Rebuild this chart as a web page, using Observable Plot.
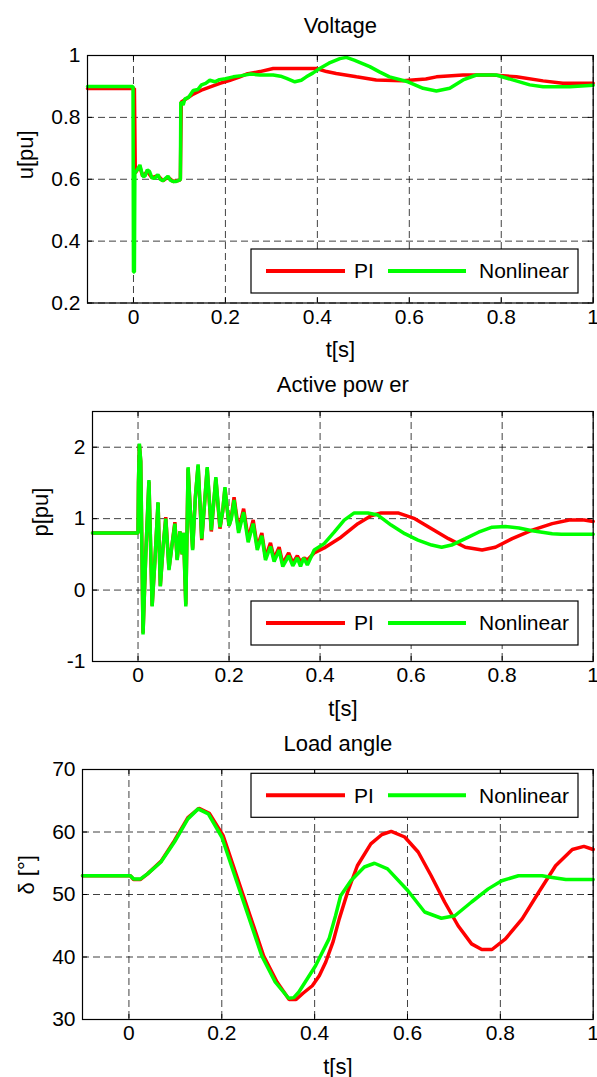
<!DOCTYPE html>
<html><head><meta charset="utf-8">
<script src="https://cdn.jsdelivr.net/npm/d3@7"></script>
<script src="https://cdn.jsdelivr.net/npm/@observablehq/plot@0.6"></script>
<style>
body{margin:0;background:#fff;}
#chart{position:relative;width:597px;height:1077px;font-family:"Liberation Sans",Arial,sans-serif;}
#chart svg{position:absolute;left:0;}
</style></head><body><div id="chart"></div><script>
// ---------- data ----------
const xTicks = [0, 0.2, 0.4, 0.6, 0.8, 1];
const xDomain = [-0.1, 1];
const seriesNames = ["PI", "Nonlinear"];
const seriesColors = ["#ff0000", "#00ff00"];
const titles = ["Voltage", "Active pow er", "Load angle"];
const yLabels = ["u[pu]", "p[pu]", "δ [°]"];
const xLabel = "t[s]";
const yTicksVoltage = [0.2, 0.4, 0.6, 0.8, 1];
const yTicksPower = [-1, 0, 1, 2];
const yTicksAngle = [30, 40, 50, 60, 70];
const yDomainVoltage = [0.2, 1];
const yDomainPower = [-1, 2.5];
const yDomainAngle = [30, 70];

// [t, value]
const voltagePI = [[-0.1,0.893],[0.002,0.893],[0.004,0.62],[0.008,0.63],[0.014,0.64],[0.02,0.61],[0.03,0.625],[0.04,0.605],[0.053,0.612],[0.064,0.595],[0.075,0.607],[0.086,0.593],[0.1,0.597],[0.102,0.6],[0.104,0.85],[0.115,0.86],[0.13,0.875],[0.151,0.89],[0.17,0.9],[0.188,0.91],[0.21,0.92],[0.23,0.93],[0.246,0.94],[0.275,0.948],[0.304,0.958],[0.398,0.958],[0.42,0.948],[0.441,0.942],[0.485,0.931],[0.528,0.921],[0.586,0.918],[0.636,0.924],[0.659,0.931],[0.717,0.937],[0.781,0.937],[0.833,0.931],[0.891,0.918],[0.934,0.91],[1.0,0.91]];
const voltageNL = [[-0.1,0.9],[-0.001,0.9],[0,0.3],[0.002,0.3],[0.003,0.62],[0.008,0.63],[0.014,0.646],[0.02,0.61],[0.025,0.61],[0.03,0.63],[0.035,0.625],[0.04,0.605],[0.046,0.603],[0.053,0.615],[0.058,0.6],[0.064,0.595],[0.07,0.603],[0.075,0.61],[0.08,0.597],[0.086,0.593],[0.093,0.593],[0.1,0.597],[0.102,0.6],[0.103,0.85],[0.108,0.84],[0.112,0.86],[0.12,0.865],[0.13,0.887],[0.14,0.89],[0.148,0.905],[0.157,0.91],[0.166,0.92],[0.177,0.915],[0.187,0.922],[0.2,0.925],[0.217,0.931],[0.235,0.935],[0.255,0.94],[0.275,0.937],[0.304,0.937],[0.32,0.933],[0.333,0.926],[0.351,0.915],[0.365,0.92],[0.376,0.931],[0.39,0.943],[0.405,0.958],[0.425,0.975],[0.449,0.99],[0.463,0.994],[0.48,0.985],[0.514,0.964],[0.535,0.947],[0.557,0.931],[0.597,0.915],[0.63,0.894],[0.659,0.885],[0.688,0.894],[0.717,0.921],[0.746,0.937],[0.789,0.937],[0.825,0.921],[0.862,0.905],[0.891,0.899],[0.949,0.899],[1.0,0.904]];

const powerPI = [[-0.1,0.8],[0,0.8],[0.001,1.5],[0.003,2.03],[0.006,1.8],[0.011,-0.6],[0.017,0.5],[0.024,1.52],[0.031,-0.22],[0.037,0.4],[0.044,1.22],[0.049,0.06],[0.055,0.6],[0.061,1.02],[0.068,0.3],[0.074,0.6],[0.081,0.95],[0.086,0.43],[0.092,0.82],[0.097,0.5],[0.1,0.8],[0.105,-0.2],[0.11,1.7],[0.115,1.1],[0.12,0.58],[0.126,1.3],[0.132,1.74],[0.14,0.7],[0.146,1.2],[0.152,1.7],[0.161,0.82],[0.166,1.2],[0.171,1.56],[0.18,0.86],[0.186,1.1],[0.191,1.42],[0.2,0.9],[0.205,1.02],[0.211,1.3],[0.221,0.84],[0.232,1.14],[0.242,0.72],[0.253,0.98],[0.262,0.6],[0.272,0.8],[0.28,0.46],[0.291,0.66],[0.299,0.44],[0.31,0.6],[0.318,0.37],[0.331,0.52],[0.34,0.38],[0.35,0.48],[0.357,0.4],[0.365,0.45],[0.372,0.42],[0.387,0.52],[0.409,0.59],[0.446,0.74],[0.483,0.93],[0.512,1.04],[0.534,1.08],[0.571,1.08],[0.608,1.0],[0.645,0.86],[0.682,0.72],[0.719,0.6],[0.756,0.56],[0.785,0.6],[0.822,0.72],[0.866,0.84],[0.91,0.93],[0.947,0.98],[0.98,0.98],[1.0,0.96]];
const powerNL = [[-0.1,0.8],[0,0.8],[0.001,1.5],[0.003,2.05],[0.006,1.8],[0.011,-0.62],[0.017,0.5],[0.024,1.54],[0.031,-0.23],[0.037,0.4],[0.044,1.23],[0.049,0.05],[0.055,0.6],[0.061,1.0],[0.068,0.28],[0.074,0.6],[0.081,0.93],[0.086,0.42],[0.092,0.82],[0.097,0.5],[0.1,0.8],[0.105,-0.23],[0.11,1.72],[0.115,1.1],[0.12,0.56],[0.126,1.3],[0.132,1.76],[0.14,0.72],[0.146,1.2],[0.152,1.72],[0.161,0.84],[0.166,1.2],[0.171,1.58],[0.18,0.88],[0.186,1.1],[0.191,1.44],[0.2,0.9],[0.205,1.0],[0.211,1.26],[0.221,0.8],[0.232,1.09],[0.242,0.67],[0.253,0.93],[0.262,0.56],[0.272,0.76],[0.28,0.42],[0.291,0.61],[0.299,0.4],[0.31,0.56],[0.318,0.33],[0.331,0.48],[0.34,0.34],[0.35,0.45],[0.357,0.33],[0.364,0.45],[0.372,0.35],[0.38,0.46],[0.387,0.56],[0.409,0.65],[0.431,0.81],[0.453,0.98],[0.475,1.08],[0.505,1.08],[0.527,1.05],[0.556,0.91],[0.586,0.79],[0.615,0.7],[0.645,0.63],[0.667,0.6],[0.689,0.63],[0.719,0.72],[0.748,0.81],[0.778,0.88],[0.807,0.89],[0.837,0.87],[0.866,0.83],[0.91,0.79],[0.93,0.78],[1.0,0.78]];

const anglePI = [[-0.1,53],[0.003,53],[0.01,52.4],[0.025,52.4],[0.04,53.3],[0.069,55.3],[0.098,58.6],[0.127,62.3],[0.151,63.8],[0.173,63],[0.203,59.4],[0.232,53],[0.261,46.6],[0.29,40.2],[0.319,36],[0.345,33.2],[0.36,33.2],[0.375,34.2],[0.395,35.4],[0.41,37],[0.424,39.2],[0.44,42.5],[0.453,46.1],[0.471,50.4],[0.492,54.6],[0.521,58.1],[0.545,59.6],[0.565,60.1],[0.594,59.2],[0.623,56.8],[0.651,53],[0.68,48.8],[0.709,45],[0.738,42.1],[0.76,41.2],[0.782,41.2],[0.811,42.9],[0.847,46.1],[0.883,50.4],[0.919,54.6],[0.955,57.2],[0.98,57.7],[1.0,57.2]];
const angleNL = [[-0.1,53],[0.003,53],[0.01,52.5],[0.025,52.5],[0.04,53.3],[0.069,55.2],[0.098,58.4],[0.127,62.1],[0.149,63.7],[0.171,62.9],[0.2,59.2],[0.228,53],[0.257,46.6],[0.286,40.2],[0.315,36],[0.344,33.4],[0.355,33.5],[0.366,34.4],[0.402,38.6],[0.431,42.9],[0.445,46.6],[0.456,49.8],[0.478,52.2],[0.507,54.4],[0.529,55],[0.557,54.1],[0.601,50.6],[0.637,47.2],[0.673,46.2],[0.702,46.6],[0.738,48.8],[0.774,50.9],[0.803,52.2],[0.839,53],[0.89,53],[0.905,52.8],[0.941,52.4],[1.0,52.4]];

// ---------- layout ----------
const W = 597;
const FONT = 21;
const panels = [
  {top:0, height:365, mt:55, mb:62.5, ml:87, mr:4.3, yDomain:yDomainVoltage, yTicks:yTicksVoltage, series:[voltagePI, voltageNL], title:titles[0], titleDy:-30, ylabel:yLabels[0], ylabelDx:-62, legend:{anchor:"bottom", off:9.5}},
  {top:365, height:360, mt:46, mb:64, ml:92, mr:4.3, yDomain:yDomainPower, yTicks:yTicksPower, series:[powerPI, powerNL], title:titles[1], titleDy:-27, ylabel:yLabels[1], ylabelDx:-52, legend:{anchor:"bottom", off:16}},
  {top:725, height:352, mt:44, mb:58, ml:82, mr:4.3, yDomain:yDomainAngle, yTicks:yTicksAngle, series:[anglePI, angleNL], title:titles[2], titleDy:-26, ylabel:yLabels[2], ylabelDx:-56, legend:{anchor:"top", off:4.3}}
];

const container = document.getElementById("chart");
const grid = {stroke:"#000", strokeOpacity:0.75, strokeWidth:1, strokeDasharray:"7,4"};

for (const cfg of panels) {
  const rows = [];
  cfg.series.forEach((arr, i) => arr.forEach(([t, v]) => rows.push({t, v, s: seriesNames[i]})));
  const plotH = cfg.height - cfg.mt - cfg.mb;
  const plotW = W - cfg.ml - cfg.mr;
  const svg = Plot.plot({
    width: W, height: cfg.height,
    marginTop: cfg.mt, marginBottom: cfg.mb, marginLeft: cfg.ml, marginRight: cfg.mr,
    style: {fontFamily: '"Liberation Sans", Arial, sans-serif', fontSize: FONT + "px", color: "#000", background: "#fff", overflow: "visible"},
    x: {domain: xDomain, axis: null},
    y: {domain: cfg.yDomain, axis: null},
    color: {domain: seriesNames, range: seriesColors},
    marks: [
      Plot.gridX(xTicks, grid),
      Plot.gridY(cfg.yTicks, grid),
      Plot.line(rows, {x: "t", y: "v", z: "s", stroke: "s", strokeWidth: 3.5, strokeLinejoin: "miter"}),
      Plot.frame({stroke: "#000", strokeWidth: 1.2}),
      Plot.tickX(xTicks, {x: d => d, insetTop: plotH - 5, stroke: "#000"}),
      Plot.tickX(xTicks, {x: d => d, insetBottom: plotH - 5, stroke: "#000"}),
      Plot.tickY(cfg.yTicks, {y: d => d, insetRight: plotW - 5, stroke: "#000"}),
      Plot.tickY(cfg.yTicks, {y: d => d, insetLeft: plotW - 5, stroke: "#000"}),
      Plot.axisX(xTicks, {tickSize: 0, tickPadding: 6, tickFormat: d => String(d), fontSize: FONT, label: null}),
      Plot.axisY(cfg.yTicks, {tickSize: 0, tickPadding: 7, tickFormat: d => String(d), fontSize: FONT, label: null}),
      Plot.text([cfg.title], {text: d => d, frameAnchor: "top", lineAnchor: "middle", dy: cfg.titleDy, fontSize: 22}),
      Plot.text([xLabel], {text: d => d, frameAnchor: "bottom", lineAnchor: "middle", dy: 47, fontSize: 22}),
      Plot.text([cfg.ylabel], {text: d => d, frameAnchor: "left", lineAnchor: "middle", dx: cfg.ylabelDx, rotate: -90, fontSize: 22})
    ]
  });
  svg.style.top = cfg.top + "px";
  // legend
  const boxW = 327, boxH = 44;
  const bx = W - cfg.mr - 14.7 - boxW;
  const by = cfg.legend.anchor === "bottom" ? (cfg.height - cfg.mb - cfg.legend.off - boxH) : (cfg.mt + cfg.legend.off);
  const g = d3.select(svg).append("g").attr("transform", `translate(${bx},${by})`);
  g.append("rect").attr("width", boxW).attr("height", boxH).attr("fill", "#fff").attr("stroke", "#000").attr("stroke-width", 1.2);
  const cy = boxH / 2;
  const items = [{x1: 15, x2: 94, tx: 103}, {x1: 137, x2: 215, tx: 228}];
  seriesNames.forEach((name, i) => {
    g.append("line").attr("x1", items[i].x1).attr("x2", items[i].x2).attr("y1", cy).attr("y2", cy)
      .attr("stroke", seriesColors[i]).attr("stroke-width", 4);
    g.append("text").attr("x", items[i].tx).attr("y", cy).attr("dy", "0.35em")
      .attr("text-anchor", "start").attr("font-size", 21).attr("fill", "#000").text(name);
  });
  container.appendChild(svg);
}
</script></body></html>
